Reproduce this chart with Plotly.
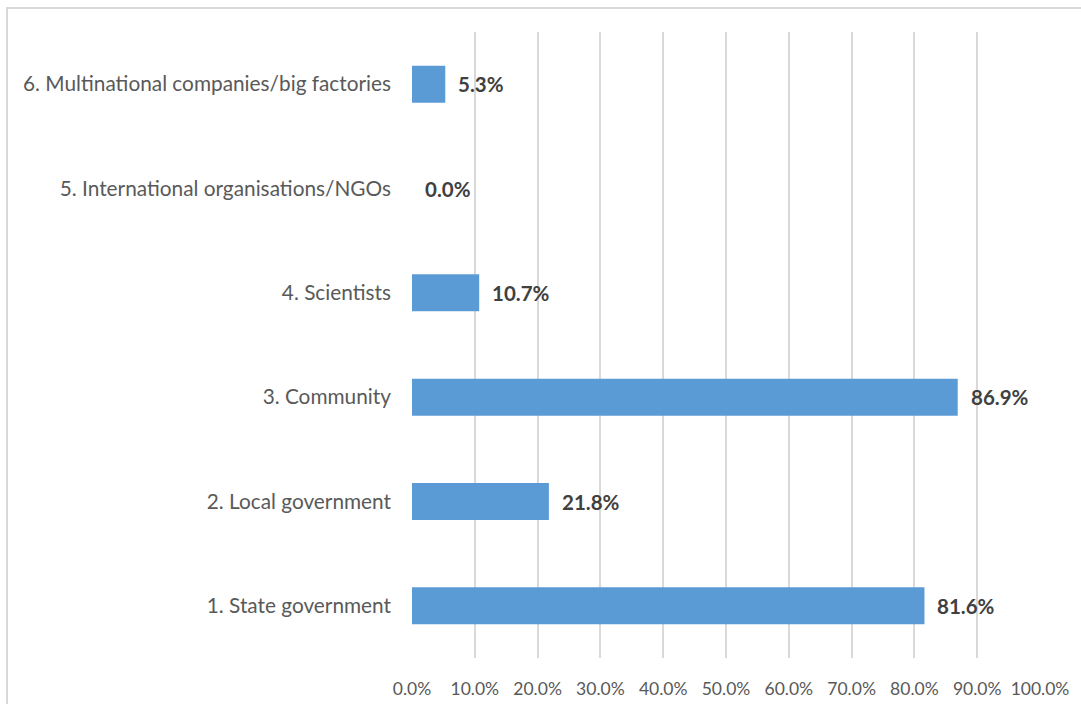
import plotly.graph_objects as go

categories = [
    "1. State government",
    "2. Local government",
    "3. Community",
    "4. Scientists",
    "5. International organisations/NGOs",
    "6. Multinational companies/big factories",
]
values = [81.6, 21.8, 86.9, 10.7, 0.0, 5.3]
tick_values = [0, 10, 20, 30, 40, 50, 60, 70, 80, 90, 100]
tick_labels = [f"{v:.1f}%" for v in tick_values]

W, H = 1081, 704
ML, MR, MT, MB = 412, 41, 32, 46

fig = go.Figure()
fig.add_trace(go.Bar(
    x=values,
    y=categories,
    orientation="h",
    width=0.355,
    marker=dict(color="#5b9bd5", line=dict(width=0)),
    hoverinfo="x+y",
))

# value labels just past the end of each bar
for cat, v in zip(categories, values):
    fig.add_annotation(
        x=v, y=cat, xref="x", yref="y",
        text=f"<b>{v:.1f}%</b>",
        showarrow=False, xanchor="left", xshift=11,
        font=dict(family="Lato", size=20.5, color="#404040"),
    )

# outer chart border
pw = W - ML - MR
ph = H - MT - MB
fig.add_shape(
    type="rect", xref="paper", yref="paper",
    x0=(7 - ML) / pw, x1=(1090 - ML) / pw,
    y0=(H - MB - 720) / ph, y1=(H - MB - 8) / ph,
    line=dict(color="#d9d9d9", width=2), fillcolor="rgba(0,0,0,0)",
    layer="below",
)

fig.update_layout(
    width=W, height=H,
    margin=dict(l=ML, r=MR, t=MT, b=MB, autoexpand=False),
    paper_bgcolor="white", plot_bgcolor="white",
    showlegend=False,
    xaxis=dict(
        range=[0, 100],
        tickvals=tick_values,
        ticktext=tick_labels,
        showgrid=True, gridcolor="#d9d9d9", gridwidth=2,
        zeroline=False, showline=False,
        tickfont=dict(family="Lato", size=17.5, color="#595959"),
        ticklabelstandoff=18,
        automargin=False,
        fixedrange=True,
    ),
    yaxis=dict(
        categoryorder="array", categoryarray=categories,
        showgrid=False, zeroline=False, showline=False,
        tickfont=dict(family="Lato", size=20.8, color="#595959"),
        ticklabelstandoff=20,
        automargin=False,
        fixedrange=True,
    ),
)

fig.write_html("out.html")
